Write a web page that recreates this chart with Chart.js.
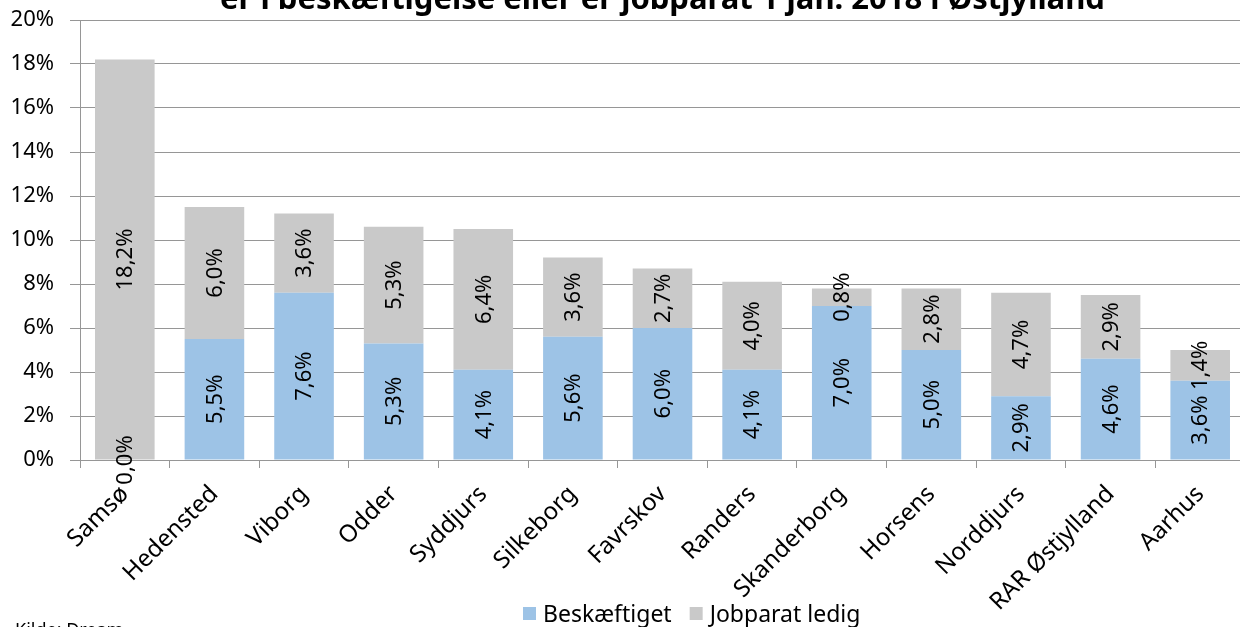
<!DOCTYPE html>
<html lang="da">
<head>
<meta charset="UTF-8">
<title>Beskæftigelse og jobparathed Østjylland</title>
<style>
    html, body {
        margin: 0;
        padding: 0;
        background: #fff;
        overflow: hidden;
    }
    .wrap {
        position: relative;
        width: 1245px;
        height: 627px;
    }
</style>
</head>
<body>
<div class="wrap">
    <canvas id="chart"></canvas>
</div>
<script src="https://cdn.jsdelivr.net/npm/chart.js"></script>
<script>
    const categories = ['Samsø', 'Hedensted', 'Viborg', 'Odder', 'Syddjurs', 'Silkeborg', 'Favrskov',
        'Randers', 'Skanderborg', 'Horsens', 'Norddjurs', 'RAR Østjylland', 'Aarhus'];
    const beskaeftiget = [0.0, 5.5, 7.6, 5.3, 4.1, 5.6, 6.0, 4.1, 7.0, 5.0, 2.9, 4.6, 3.6];
    const jobparatLedig = [18.2, 6.0, 3.6, 5.3, 6.4, 3.6, 2.7, 4.0, 0.8, 2.8, 4.7, 2.9, 1.4];
    const yTicks = [0, 2, 4, 6, 8, 10, 12, 14, 16, 18, 20];

    const titleText = 'er i beskæftigelse eller er jobparat 1 jan. 2018 i Østjylland';
    const sourceText = 'Kilde: Dream';
    const font = '"Noto Sans", "Open Sans", sans-serif';

    const fmt = v => v.toFixed(1).replace('.', ',') + '%';

    // labels inside the bar segments, turned 90 degrees
    const segmentLabels = {
        id: 'segmentLabels',
        afterDatasetsDraw(chart) {
            const ctx = chart.ctx;
            ctx.save();
            ctx.font = '22px ' + font;
            ctx.fillStyle = '#000';
            ctx.textAlign = 'center';
            ctx.textBaseline = 'middle';
            chart.data.datasets.forEach((ds, i) => {
                const meta = chart.getDatasetMeta(i);
                meta.data.forEach((bar, j) => {
                    const p = bar.getProps(['x', 'y', 'base'], true);
                    const cy = (p.y + p.base) / 2;
                    ctx.save();
                    ctx.translate(p.x, cy);
                    ctx.rotate(-Math.PI / 2);
                    ctx.fillText(fmt(ds.data[j]), 0, 1);
                    ctx.restore();
                });
            });
            ctx.restore();
        }
    };

    // cut-off title, source line and legend
    const extras = {
        id: 'extras',
        afterDraw(chart) {
            const ctx = chart.ctx;
            const area = chart.chartArea;
            ctx.save();
            ctx.fillStyle = '#000';
            ctx.textBaseline = 'alphabetic';

            ctx.font = 'bold 31px ' + font;
            ctx.textAlign = 'center';
            ctx.fillText(titleText, (area.left + area.right) / 2, 9);

            ctx.font = '18px ' + font;
            ctx.textAlign = 'left';
            ctx.fillText(sourceText, 15, 636);

            ctx.font = '23px ' + font;
            let x = 523;
            chart.data.datasets.forEach(ds => {
                ctx.fillStyle = ds.backgroundColor;
                ctx.fillRect(x, 607, 13, 13);
                ctx.fillStyle = '#000';
                ctx.fillText(ds.label, x + 20, 622);
                x += 20 + ctx.measureText(ds.label).width + 18;
            });
            ctx.restore();
        }
    };

    new Chart(document.getElementById('chart'), {
        type: 'bar',
        data: {
            labels: categories,
            datasets: [
                {
                    label: 'Beskæftiget',
                    data: beskaeftiget,
                    backgroundColor: '#9dc3e6',
                    borderWidth: 0
                },
                {
                    label: 'Jobparat ledig',
                    data: jobparatLedig,
                    backgroundColor: '#c9c9c9',
                    borderWidth: 0
                }
            ]
        },
        options: {
            responsive: true,
            maintainAspectRatio: false,
            animation: false,
            layout: { padding: { top: 20, right: 0, bottom: 0, left: 0 } },
            datasets: {
                bar: { barPercentage: 0.665, categoryPercentage: 1.0 }
            },
            plugins: {
                legend: { display: false },
                title: { display: false },
                tooltip: { enabled: false }
            },
            scales: {
                x: {
                    stacked: true,
                    afterFit: axis => { axis.height = 167; },
                    grid: {
                        drawOnChartArea: false,
                        drawTicks: true,
                        tickLength: 8,
                        color: '#969696',
                        offset: true
                    },
                    border: { color: '#969696', width: 1 },
                    ticks: {
                        autoSkip: false,
                        maxRotation: 45,
                        minRotation: 45,
                        padding: 12,
                        color: '#000',
                        font: { family: font, size: 24 }
                    }
                },
                y: {
                    stacked: true,
                    min: 0,
                    max: 20,
                    afterFit: axis => {
                        axis.width = 80;
                        axis.paddingTop = 0;
                        axis.paddingBottom = 0;
                    },
                    afterBuildTicks: axis => {
                        axis.ticks = yTicks.map(v => ({ value: v }));
                    },
                    grid: {
                        color: '#969696',
                        tickLength: 10
                    },
                    border: { color: '#969696', width: 1 },
                    ticks: {
                        padding: 16,
                        color: '#000',
                        font: { family: font, size: 22 },
                        callback: v => v + '%'
                    }
                }
            }
        },
        plugins: [segmentLabels, extras]
    });
</script>
</body>
</html>
